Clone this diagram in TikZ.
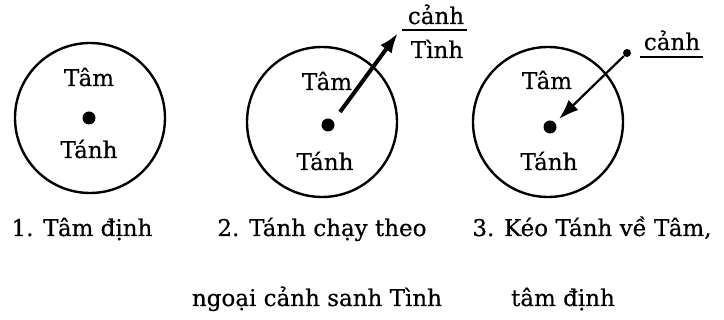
\documentclass[tikz,border=0pt]{standalone}
\usepackage{fontspec}
\setmainfont{DejaVu Serif}[FakeBold=0.4]
\usetikzlibrary{arrows.meta}

\begin{document}
\begin{tikzpicture}[x=0.5pt,y=-0.5pt,
  ring/.style={draw,circle,line width=1.2pt,minimum size=75pt,inner sep=0pt},
  blob/.style={fill,circle,inner sep=0pt,minimum size=6.5pt},
  lbl/.style={anchor=base,inner sep=0pt,font=\fontsize{11.5}{13}\selectfont}]
  \useasboundingbox (0,0) rectangle (724,320);
  % 1. Tam dinh
  \node[ring] (c1) at (90,118) {};
  \node[blob] (d1) at (89,118) {};
  \node[lbl] (tam1) at (89,86) {Tâm};
  \node[lbl] (tanh1) at (89,158) {Tánh};
  % 2. Tanh chay theo canh
  \node[ring] (c2) at (322,122) {};
  \node[blob] (d2) at (328,125) {};
  \node[lbl] (tam2) at (327,90) {Tâm};
  \node[lbl] (tanh2) at (325,170) {Tánh};
  \node[lbl] (canh2) at (436,24) {cảnh};
  \node[lbl] (tinh2) at (437,58) {Tình};
  \coordinate (s2) at (340,112);
  \coordinate (t2) at (398,33);
  \coordinate (ua) at (402,30);
  \coordinate (ub) at (467,30);
  \draw[line width=2pt,-{Latex[length=10pt,width=7pt]}] (s2) -- (t2);
  \draw[line width=1.4pt] (ua) -- (ub);
  % 3. Keo Tanh ve Tam
  \node[ring] (c3) at (548,122) {};
  \node[blob] (d3) at (550,127) {};
  \node[lbl] (tam3) at (547,89) {Tâm};
  \node[lbl] (tanh3) at (549,170) {Tánh};
  \node[lbl] (canh3) at (672,50) {cảnh};
  \node[blob,minimum size=4pt] (e3) at (627,53) {};
  \coordinate (t3) at (559,119);
  \coordinate (va) at (640,57);
  \coordinate (vb) at (703,57);
  \draw[line width=1.1pt,-{Latex[length=10pt,width=7pt]}] (e3) -- (t3);
  \draw[line width=0.9pt] (va) -- (vb);
  % captions
  \node[lbl] (cap1) at (82,236) {1. Tâm định};
  \node[lbl] (cap2) at (322,236) {2. Tánh chạy theo};
  \node[lbl] (cap2b) at (317,306) {ngoại cảnh sanh Tình};
  \node[lbl] (cap3) at (592,236) {3. Kéo Tánh về Tâm,};
  \node[lbl] (cap3b) at (563,306) {tâm định};
\end{tikzpicture}
\end{document}
